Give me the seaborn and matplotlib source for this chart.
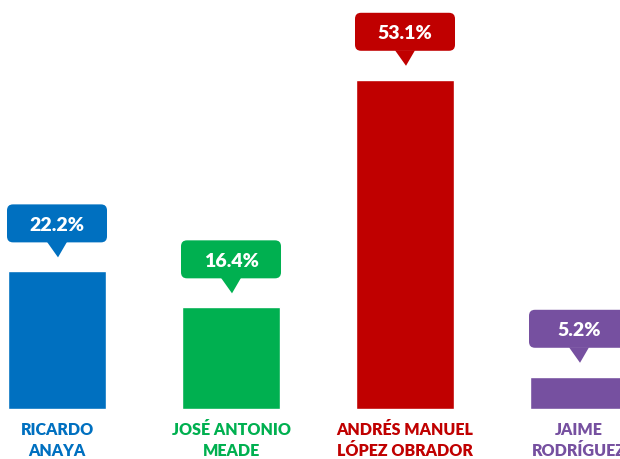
import matplotlib
matplotlib.use("Agg")
import matplotlib.pyplot as plt
import matplotlib.transforms as mtrans
from matplotlib.patches import FancyBboxPatch, Polygon
import seaborn as sns
import pandas as pd

# data
candidates = ['RICARDO\nANAYA', 'JOSÉ ANTONIO\nMEADE', 'ANDRÉS MANUEL\nLÓPEZ OBRADOR', 'JAIME\nRODRÍGUEZ']
shares = [22.2, 16.4, 53.1, 5.2]
colors = ['#0070C0', '#00B050', '#C00000', '#7650A0']

df = pd.DataFrame({'Candidate': candidates, 'Share': shares})

sns.set_style("white")
plt.rcParams['font.family'] = ['Lato', 'DejaVu Sans']

fig = plt.figure(figsize=(6.2, 4.6), dpi=100)
ax = fig.add_axes([0, 0, 1, 1])

sns.barplot(data=df, x='Candidate', y='Share', hue='Candidate', order=candidates,
            palette=colors, width=0.563, saturation=1, legend=False, ax=ax)

ax.set_xlim(-0.3276, 3.2356)
ax.set_ylim(-8.06, 66.13)
ax.axis('off')

px = mtrans.Affine2D().scale(fig.dpi / 100)  # pixel units

for i, (name, val, col) in enumerate(zip(candidates, shares, colors)):
    # callout anchored at the bar top
    trans = px + mtrans.ScaledTranslation(i, val, ax.transData)
    box = FancyBboxPatch((-50, 29), 100, 38, boxstyle="round,pad=0,rounding_size=6",
                         facecolor=col, edgecolor='none', transform=trans, clip_on=False)
    tri = Polygon([(-10, 29.5), (10, 29.5), (1, 14)], closed=True,
                  facecolor=col, edgecolor='none', transform=trans, clip_on=False)
    ax.add_patch(box)
    ax.add_patch(tri)
    ax.text(0, 47, f"{val}%", transform=trans, ha='center', va='center',
            color='white', fontsize=14, fontweight='heavy')

    # category label under the bar
    trans0 = px + mtrans.ScaledTranslation(i, 0, ax.transData)
    ax.text(0, -12, name, transform=trans0, ha='center', va='top',
            color=col, fontsize=11.5, fontweight='heavy', linespacing=1.4)

fig.savefig("out.png", dpi=100)
